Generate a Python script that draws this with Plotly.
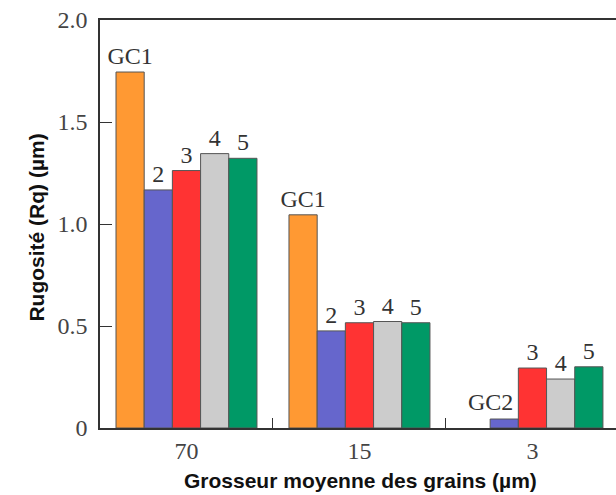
import plotly.graph_objects as go

categories = ["70", "15", "3"]
series_names = ["GC1", "2", "3", "4", "5"]
gc1_vals = [1.745, 1.045, None]
s2_vals = [1.167, 0.476, 0.044]
s3_vals = [1.262, 0.516, 0.294]
s4_vals = [1.345, 0.522, 0.240]
s5_vals = [1.322, 0.516, 0.300]
gc1_text = ["GC1", "GC1", ""]
s2_text = ["2", "2", ""]
s3_text = ["3", "3", "3"]
s4_text = ["4", "4", "4"]
s5_text = ["5", "5", "5"]
gc2_label = "GC2"

values = [gc1_vals, s2_vals, s3_vals, s4_vals, s5_vals]
texts = [gc1_text, s2_text, s3_text, s4_text, s5_text]
colors = ["#FF9933", "#6666CC", "#FF3333", "#CCCCCC", "#009966"]

fig = go.Figure()
for name, vals, txt, col in zip(series_names, values, texts, colors):
    fig.add_trace(go.Bar(
        x=categories, y=vals, name=name, text=txt,
        textposition="outside", textangle=0, constraintext="none",
        cliponaxis=False,
        textfont=dict(family="Liberation Serif", size=24, color="#333333"),
        marker=dict(color=col, line=dict(color="#555555", width=1)),
    ))

fig.update_layout(
    width=616, height=495,
    margin=dict(l=100, r=0, t=20, b=67),
    paper_bgcolor="white", plot_bgcolor="white",
    barmode="group", bargap=0.185, bargroupgap=0,
    showlegend=False,
    font=dict(family="Liberation Serif", size=24, color="#444444"),
)
fig.update_xaxes(
    type="category", range=[-0.5, 2.483],
    showline=True, linecolor="#333333", linewidth=1.5, mirror=True,
    ticks="inside", ticklen=10, tickcolor="#333333", tickson="boundaries",
    showgrid=False,
    tickfont=dict(family="Liberation Serif", size=24, color="#444444"),
)
fig.update_yaxes(
    range=[0, 2.0], tickvals=[0, 0.5, 1.0, 1.5, 2.0],
    ticktext=["0", "0.5", "1.0", "1.5", "2.0"],
    showline=True, linecolor="#333333", linewidth=1.5,
    ticks="inside", ticklen=12, tickcolor="#333333",
    showgrid=False, zeroline=False, ticklabelstandoff=6,
    tickfont=dict(family="Liberation Serif", size=24, color="#444444"),
)
# GC2 label above the small blue bar in the "3" group, offset left as in the source
fig.add_annotation(
    text=gc2_label, x=categories.index("3"), y=s2_vals[2], xref="x", yref="y",
    xshift=-42, yshift=2, yanchor="bottom", showarrow=False,
    font=dict(family="Liberation Serif", size=24, color="#333333"),
)
fig.add_annotation(
    text="<b>Grosseur moyenne des grains (µm)</b>", xref="paper", yref="paper",
    x=0.505, y=0, yshift=-52, showarrow=False, yanchor="middle",
    font=dict(family="Liberation Sans", size=21, color="#111111"),
)
fig.add_annotation(
    text="<b>Rugosité (Rq) (µm)</b>", xref="paper", yref="paper",
    x=0, xshift=-77, y=0.49, showarrow=False, textangle=-90,
    font=dict(family="Liberation Sans", size=21, color="#111111"),
)
fig.write_html("out.html")
